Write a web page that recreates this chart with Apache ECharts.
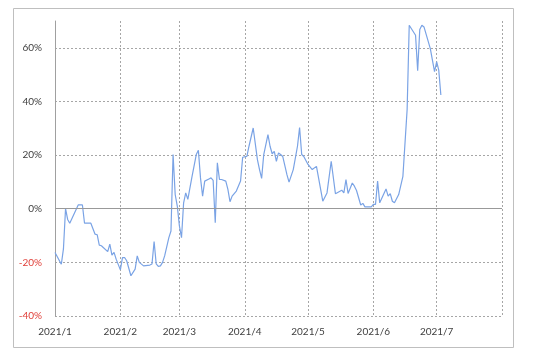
<!DOCTYPE html>
<html>
<head>
<meta charset="utf-8">
<script src="https://cdn.jsdelivr.net/npm/echarts@6/dist/echarts.min.js"></script>
<style>
html,body{margin:0;padding:0;background:#fff;}
#chart{width:540px;height:362px;}
</style>
</head>
<body>
<div id="chart"></div>
<script>
const dates = [
 '2021-01-01','2021-01-04','2021-01-05','2021-01-06','2021-01-07','2021-01-08','2021-01-12','2021-01-14','2021-01-15','2021-01-18',
 '2021-01-20','2021-01-21','2021-01-22','2021-01-23','2021-01-26','2021-01-27','2021-01-28','2021-01-29','2021-01-30',
 '2021-02-01','2021-02-02','2021-02-03','2021-02-04','2021-02-06','2021-02-08','2021-02-09','2021-02-10','2021-02-12','2021-02-15',
 '2021-02-16','2021-02-17','2021-02-18','2021-02-19','2021-02-20','2021-02-21','2021-02-22','2021-02-24','2021-02-25','2021-02-26',
 '2021-02-27','2021-02-28','2021-03-01','2021-03-02','2021-03-03','2021-03-04','2021-03-05','2021-03-07','2021-03-09','2021-03-10',
 '2021-03-11','2021-03-12','2021-03-13','2021-03-15','2021-03-16','2021-03-17','2021-03-18','2021-03-19','2021-03-20','2021-03-21',
 '2021-03-23','2021-03-24','2021-03-25','2021-03-26','2021-03-28','2021-03-30','2021-03-31',
 '2021-04-02','2021-04-03','2021-04-05','2021-04-07','2021-04-08','2021-04-09','2021-04-10','2021-04-12','2021-04-13','2021-04-14',
 '2021-04-15','2021-04-16','2021-04-17','2021-04-18','2021-04-19','2021-04-21','2021-04-22','2021-04-24','2021-04-26','2021-04-27',
 '2021-04-28','2021-04-29','2021-05-01','2021-05-03','2021-05-05','2021-05-06','2021-05-08','2021-05-10','2021-05-12','2021-05-14',
 '2021-05-17','2021-05-18','2021-05-19','2021-05-20','2021-05-22','2021-05-23','2021-05-24','2021-05-26','2021-05-27','2021-05-28',
 '2021-05-30','2021-05-31','2021-06-01','2021-06-02','2021-06-03','2021-06-04','2021-06-07','2021-06-08','2021-06-09','2021-06-10',
 '2021-06-11','2021-06-13','2021-06-15','2021-06-17','2021-06-18','2021-06-21','2021-06-22','2021-06-23','2021-06-24','2021-06-25',
 '2021-06-28','2021-06-30','2021-07-01','2021-07-02','2021-07-03'
];
const values = [
 -16.3,-20.7,-15.0,0.0,-4.0,-5.4,1.4,1.4,-5.4,-5.4,
 -9.5,-9.7,-13.6,-13.8,-16.0,-13.2,-17.3,-16.3,-18.8,
 -22.8,-18.2,-18.2,-19.4,-25.0,-22.5,-17.6,-20.0,-21.3,-21.0,
 -20.6,-12.2,-20.6,-21.5,-21.3,-20.0,-17.6,-10.8,-8.3,20.2,
 5.3,1.0,-6.4,-10.8,2.2,5.9,3.5,12.1,20.2,21.8,
 11.5,4.7,10.3,11.1,11.5,10.6,-5.2,17.1,10.9,10.9,
 10.3,7.2,2.6,4.7,6.6,10.3,19.2,
 19.5,23.3,30.1,18.3,14.6,11.3,20.2,27.6,23.3,20.5,
 21.4,17.7,20.8,20.2,19.5,12.7,9.9,14.6,23.3,30.3,
 20.2,19.5,16.5,14.6,15.8,11.5,2.8,5.9,17.7,5.6,
 6.9,5.9,10.9,5.7,9.6,8.4,6.8,1.4,2.0,0.7,
 0.7,0.7,1.6,1.6,10.3,2.2,7.4,4.7,5.6,2.8,
 2.2,5.3,12.1,36.9,68.4,64.7,51.5,66.8,68.4,67.8,
 59.7,51.1,54.8,51.7,42.4
];
const yTicks = [-40, -20, 0, 20, 40, 60];
const yMax = 70;
const xStart = '2021-01-01';
const xEnd = '2021-08-01';

function toDate(s){ const p = s.split('-').map(Number); return new Date(p[0], p[1]-1, p[2]).getTime(); }

const chart = echarts.init(document.getElementById('chart'), null, {renderer:'canvas'});
const gridColor = '#a6a6a6';
const font = 'Lato';
const splitColors = yTicks.map(() => gridColor).concat(['rgba(0,0,0,0)']);

chart.setOption({
  animation: false,
  backgroundColor: '#ffffff',
  graphic: [{
    type: 'rect', shape: {x: 13.5, y: 8.5, width: 500, height: 339},
    style: {fill: 'none', stroke: '#bfbfbf', lineWidth: 1}, silent: true, z: -1
  }],
  grid: {left: 55, right: 38, top: 21, bottom: 46, containLabel: false},
  xAxis: {
    type: 'time',
    min: toDate(xStart), max: toDate(xEnd),
    splitNumber: 7,
    minInterval: 28 * 86400000,
    axisLine: {show: false},
    axisTick: {show: false},
    splitLine: {show: true, lineStyle: {color: gridColor, type: [2, 2], width: 1}},
    axisLabel: {
      fontFamily: font, fontSize: 10, color: '#404040', margin: 11,
      showMaxLabel: false,
      formatter: function (v) {
        const d = new Date(v);
        if (d.getMonth() === 7) return '';
        return d.getFullYear() + '/' + (d.getMonth() + 1);
      }
    }
  },
  yAxis: {
    type: 'value', min: yTicks[0], max: yMax, interval: 20,
    axisLine: {show: true, lineStyle: {color: '#a0a0a0', width: 1}},
    axisTick: {show: false},
    splitLine: {show: true, lineStyle: {color: splitColors, type: [2, 2], width: 1}},
    axisLabel: {
      fontFamily: font, fontSize: 10, margin: 13,
      showMaxLabel: false,
      color: function (v) { return Number(v) < 0 ? '#e0403a' : '#404040'; },
      formatter: function (v) { return v === yMax ? '' : v + '%'; }
    }
  },
  series: [{
    type: 'line',
    data: dates.map((d, i) => [toDate(d), values[i]]),
    showSymbol: false,
    symbol: 'none',
    lineStyle: {color: '#7aa3e5', width: 1.2},
    markLine: {
      silent: true, symbol: 'none', label: {show: false},
      lineStyle: {color: '#999999', type: 'solid', width: 1},
      data: [{yAxis: 0}]
    },
    z: 3
  }]
});
</script>
</body>
</html>
